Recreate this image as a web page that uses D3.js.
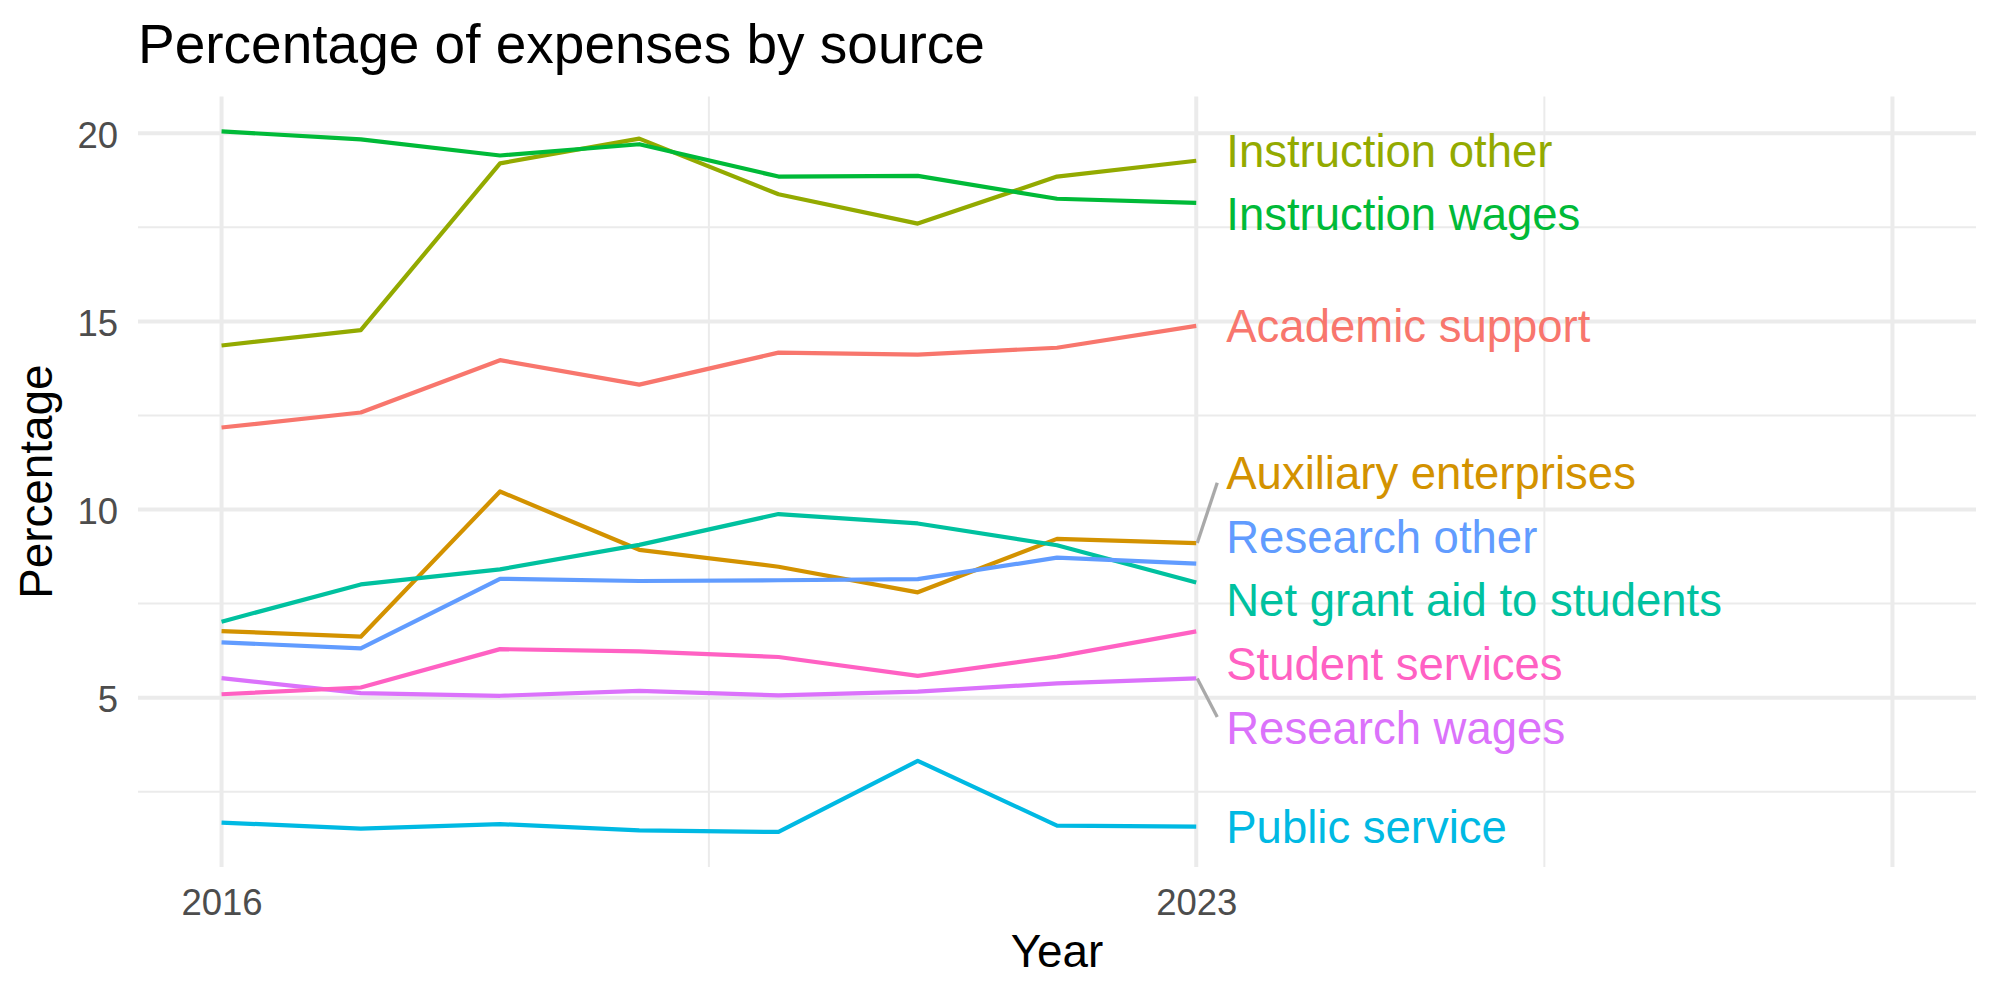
<!DOCTYPE html>
<html>
<head>
<meta charset="utf-8">
<script src="https://cdn.jsdelivr.net/npm/d3@7"></script>
<style>
  body { margin: 0; background: #fff; }
  svg text { font-family: "Liberation Sans", Arial, Helvetica, sans-serif; }
</style>
</head>
<body>
<svg id="chart" width="2000" height="1000"></svg>
<script>
// data
var years = [2016, 2017, 2018, 2019, 2020, 2021, 2022, 2023];
var categories = ["Academic support", "Auxiliary enterprises", "Instruction other", "Instruction wages",
    "Net grant aid to students", "Public service", "Research other", "Research wages", "Student services"];
var academicSupport = [12.18, 12.58, 13.97, 13.32, 14.17, 14.12, 14.30, 14.88];
var auxiliaryEnterprises = [6.77, 6.62, 10.48, 8.93, 8.48, 7.80, 9.22, 9.11];
var instructionOther = [14.36, 14.77, 19.20, 19.86, 18.38, 17.60, 18.85, 19.27];
var instructionWages = [20.05, 19.84, 19.41, 19.71, 18.85, 18.87, 18.26, 18.15];
var netGrantAid = [7.02, 8.01, 8.41, 9.06, 9.88, 9.63, 9.05, 8.06];
var publicService = [1.68, 1.52, 1.64, 1.47, 1.43, 3.32, 1.60, 1.57];
var researchOther = [6.47, 6.31, 8.16, 8.10, 8.12, 8.15, 8.72, 8.56];
var researchWages = [5.52, 5.12, 5.05, 5.18, 5.06, 5.16, 5.38, 5.51];
var studentServices = [5.09, 5.27, 6.29, 6.23, 6.08, 5.58, 6.09, 6.76];
var seriesValues = [academicSupport, auxiliaryEnterprises, instructionOther, instructionWages,
    netGrantAid, publicService, researchOther, researchWages, studentServices];
var colors = ["#F8766D", "#D39200", "#93AA00", "#00BA38", "#00C19F", "#00B9E3", "#619CFF", "#DB72FB", "#FF61C3"];

var xLimits = [2016, 2028];
var xMajor = [2016, 2023, 2028];
var xLabels = ["2016", "2023", ""];
var xMinor = [2019.5, 2025.5];
var yMajor = [5, 10, 15, 20];
var yMinor = [2.5, 7.5, 12.5, 17.5];

var series = categories.map(function(c, i) {
    return { name: c, color: colors[i], values: years.map(function(y, j) { return { year: y, v: seriesValues[i][j] }; }) };
});

var svg = d3.select("#chart");
var margin = { top: 96.4, right: 24, bottom: 133, left: 138 };
var W = 2000, H = 1000;

// ggplot style 5% expansion
var allV = d3.merge(seriesValues);
var yExt = d3.extent(allV), yPad = (yExt[1] - yExt[0]) * 0.05;
var xPad = (xLimits[1] - xLimits[0]) * 0.05;

var x = d3.scaleLinear().domain([xLimits[0] - xPad, xLimits[1] + xPad]).range([margin.left, W - margin.right]);
var y = d3.scaleLinear().domain([yExt[0] - yPad, yExt[1] + yPad]).range([H - margin.bottom, margin.top]);

var grid = svg.append("g");
grid.selectAll(".hminor").data(yMinor).enter().append("line")
    .attr("x1", x.range()[0]).attr("x2", x.range()[1])
    .attr("y1", function(d) { return y(d); }).attr("y2", function(d) { return y(d); })
    .attr("stroke", "#EBEBEB").attr("stroke-width", 2);
grid.selectAll(".vminor").data(xMinor).enter().append("line")
    .attr("y1", y.range()[0]).attr("y2", y.range()[1])
    .attr("x1", function(d) { return x(d); }).attr("x2", function(d) { return x(d); })
    .attr("stroke", "#EBEBEB").attr("stroke-width", 2);
grid.selectAll(".hmajor").data(yMajor).enter().append("line")
    .attr("x1", x.range()[0]).attr("x2", x.range()[1])
    .attr("y1", function(d) { return y(d); }).attr("y2", function(d) { return y(d); })
    .attr("stroke", "#EBEBEB").attr("stroke-width", 4);
grid.selectAll(".vmajor").data(xMajor).enter().append("line")
    .attr("y1", y.range()[0]).attr("y2", y.range()[1])
    .attr("x1", function(d) { return x(d); }).attr("x2", function(d) { return x(d); })
    .attr("stroke", "#EBEBEB").attr("stroke-width", 4);

// axes (ticks only as text, theme_minimal)
var yAxis = svg.append("g").attr("transform", "translate(" + (margin.left - 20) + ",0)")
    .call(d3.axisLeft(y).tickValues(yMajor).tickSize(0).tickPadding(0).tickFormat(d3.format("d")));
yAxis.select(".domain").remove();
yAxis.selectAll("text").attr("font-size", 36.5).attr("fill", "#4D4D4D").attr("dy", "0.39em")
    .style("font-family", "'Liberation Sans', Arial, sans-serif");

var xAxis = svg.append("g").attr("transform", "translate(0," + (H - margin.bottom) + ")")
    .call(d3.axisBottom(x).tickValues(xMajor).tickSize(0).tickPadding(0)
        .tickFormat(function(d, i) { return xLabels[i]; }));
xAxis.select(".domain").remove();
xAxis.selectAll("text").attr("font-size", 36.5).attr("fill", "#4D4D4D").attr("dy", null).attr("y", 48)
    .style("font-family", "'Liberation Sans', Arial, sans-serif");

// lines
var line = d3.line().x(function(d) { return x(d.year); }).y(function(d) { return y(d.v); });
svg.append("g").selectAll("path").data(series).enter().append("path")
    .attr("d", function(d) { return line(d.values); })
    .attr("fill", "none").attr("stroke", function(d) { return d.color; })
    .attr("stroke-width", 4.2).attr("stroke-linejoin", "round");

// repelled labels at the last year
var gap = 1.69;
function spread(items) {
    items = items.slice().sort(function(a, b) { return b.v - a.v; });
    var groups = items.map(function(d) { return { members: [d], center: d.v }; });
    var merged = true;
    while (merged) {
        merged = false;
        for (var k = 0; k < groups.length - 1; k++) {
            var a = groups[k], b = groups[k + 1];
            var aBottom = a.center - (a.members.length - 1) * gap / 2;
            var bTop = b.center + (b.members.length - 1) * gap / 2;
            if (aBottom - bTop < gap) {
                var m = a.members.concat(b.members);
                groups.splice(k, 2, { members: m, center: d3.mean(m, function(d) { return d.v; }) });
                merged = true;
                break;
            }
        }
    }
    groups.forEach(function(g) {
        g.members.forEach(function(d, j) { d.ly = g.center + ((g.members.length - 1) / 2 - j) * gap; });
    });
    return items;
}
var lastYear = years[years.length - 1];
var labels = spread(series.map(function(s) { return { name: s.name, color: s.color, v: s.values[s.values.length - 1].v }; }));
var textX = x(lastYear) + 30;

var lab = svg.append("g");
lab.selectAll("line").data(labels.filter(function(d) { return Math.abs(d.ly - d.v) > 1.2; })).enter().append("line")
    .attr("x1", x(lastYear) + 1).attr("y1", function(d) { return y(d.v); })
    .attr("x2", textX - 9).attr("y2", function(d) { return y(d.ly) + (d.v < d.ly ? 10 : -10); })
    .attr("stroke", "#A9A9A9").attr("stroke-width", 3.3);
lab.selectAll("text").data(labels).enter().append("text")
    .attr("x", textX).attr("y", function(d) { return y(d.ly) + 16.5; })
    .attr("font-size", 45.5).attr("fill", function(d) { return d.color; })
    .text(function(d) { return d.name; });

// titles
svg.append("text").attr("x", margin.left).attr("y", 62.7).attr("font-size", 55).attr("fill", "#000")
    .text("Percentage of expenses by source");
svg.append("text").attr("x", (x.range()[0] + x.range()[1]) / 2).attr("y", 966.7).attr("text-anchor", "middle")
    .attr("font-size", 45.8).attr("fill", "#000").text("Year");
svg.append("text").attr("transform", "translate(52.3," + ((y.range()[0] + y.range()[1]) / 2) + ") rotate(-90)")
    .attr("text-anchor", "middle").attr("font-size", 45.8).attr("fill", "#000").text("Percentage");
</script>
</body>
</html>
